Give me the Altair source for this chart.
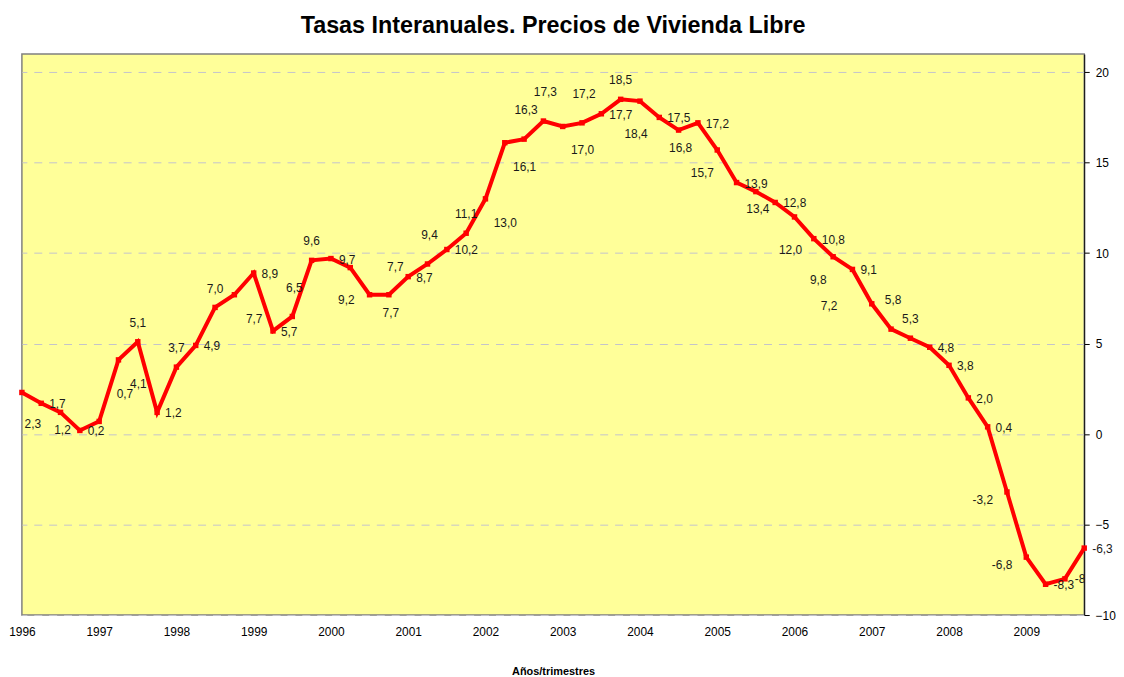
import altair as alt
import pandas as pd

# Quarterly year-on-year rates (%), 1996-T1 .. 2009-T4
years = [1996, 1997, 1998, 1999, 2000, 2001, 2002, 2003, 2004, 2005, 2006, 2007, 2008, 2009]
quarters = ["T1", "T2", "T3", "T4"]
values = [2.3, 1.7, 1.2, 0.2,
          0.7, 4.1, 5.1, 1.2,
          3.7, 4.9, 7.0, 7.7,
          8.9, 5.7, 6.5, 9.6,
          9.7, 9.2, 7.7, 7.7,
          8.7, 9.4, 10.2, 11.1,
          13.0, 16.1, 16.3, 17.3,
          17.0, 17.2, 17.7, 18.5,
          18.4, 17.5, 16.8, 17.2,
          15.7, 13.9, 13.4, 12.8,
          12.0, 10.8, 9.8, 9.1,
          7.2, 5.8, 5.3, 4.8,
          3.8, 2.0, 0.4, -3.2,
          -6.8, -8.3, -8.0, -6.3]
# data-label placement (as in the original spreadsheet chart)
placements = ["bb", "r", "b", "r",
              "ar", "br", "a", "r",
              "a", "r", "a", "br",
              "r", "r", "a2", "a",
              "r", "b2", "ar", "b",
              "r", "a2", "r", "a",
              "br", "br", "a2", "a2",
              "br", "a2", "r", "a",
              "b2", "r", "b", "r",
              "bl", "r", "b", "r",
              "b2", "r", "bl", "r",
              "l2", "a2", "a", "r",
              "r", "r", "r", "l",
              "l", "r", "rc", "r"]
year_labels = [str(y) for y in years]
y_ticks = [-10, -5, 0, 5, 10, 15, 20]

periods = [f"{y}-{q}" for y in years for q in quarters]
df = pd.DataFrame({
    "i": list(range(len(values))),
    "periodo": periods,
    "v": values,
    "lab": [f"{v:.1f}".replace(".", ",") for v in values],
    "pos": placements,
})

FONT = "Liberation Sans"

label_arr = "[" + ",".join(f"'{s}'" for s in year_labels) + "]"

x_enc = alt.X("i:Q",
              scale=alt.Scale(domain=[0, len(values) - 1], nice=False, zero=False),
              axis=alt.Axis(values=list(range(0, len(values), 4)),
                            labelExpr=f"{label_arr}[datum.value/4]",
                            ticks=False, domain=False, grid=False,
                            labelFlush=False, labelPadding=12,
                            labelFontSize=12, labelFont=FONT, labelColor="#000",
                            title="Años/trimestres", titleFont=FONT,
                            titleFontSize=11, titleFontWeight="bold",
                            titlePadding=28, titleColor="#000"))
y_enc = alt.Y("v:Q",
              scale=alt.Scale(domain=[-10, 21], nice=False, zero=False),
              axis=alt.Axis(orient="right", values=y_ticks, title=None,
                            domainColor="#000", domainWidth=1,
                            tickColor="#000", tickSize=5,
                            labelPadding=6, labelFontSize=12, labelFont=FONT,
                            labelColor="#000",
                            grid=True, gridDash=[8, 7], gridColor="#c4c4cc",
                            gridWidth=1))

base = alt.Chart(df).encode(x=x_enc, y=y_enc)

line = base.mark_line(color="#FF0000", strokeWidth=4)
pts = base.mark_square(color="#FF0000", size=30, opacity=1)

styles = {
    "r": dict(align="left", dx=8, dy=1),
    "rc": dict(align="left", dx=10, dy=0, clip=True),
    "a": dict(align="center", dx=0, dy=-19),
    "a2": dict(align="center", dx=2, dy=-29),
    "b": dict(align="center", dx=2, dy=18),
    "b2": dict(align="center", dx=-4, dy=33),
    "bb": dict(align="center", dx=11, dy=32),
    "br": dict(align="center", dx=20, dy=24),
    "ar": dict(align="center", dx=26, dy=-28),
    "bl": dict(align="center", dx=-15, dy=23),
    "l": dict(align="right", dx=-14, dy=8),
    "l2": dict(align="center", dx=-43, dy=2),
}

texts = []
for key, st in styles.items():
    texts.append(
        base.transform_filter(alt.datum.pos == key)
        .mark_text(font=FONT, fontSize=12, color="#1a1a1a", baseline="middle", **st)
        .encode(text="lab:N")
    )

chart = alt.layer(line, pts, *texts).properties(
    width=1070,
    height=565,
    autosize=alt.AutoSizeParams(type="none"),
    padding={"left": 14, "top": 44, "right": 32, "bottom": 60},
    background="white",
    title=alt.TitleParams("Tasas Interanuales. Precios de Vivienda Libre",
                          font=FONT, fontSize=23.5, fontWeight="bold",
                          color="#000", anchor="middle", dx=0, offset=17),
).configure_view(fill="#FFFF99", stroke="#808080", strokeWidth=1.5)

chart.save("out.html", embed_options={"renderer": "svg", "actions": False})
